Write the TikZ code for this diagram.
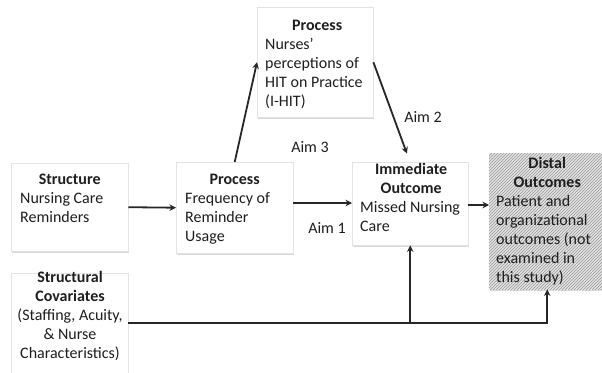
\documentclass[tikz,border=0pt]{standalone}
\usepackage{fontspec}
\setmainfont{Carlito}
\usetikzlibrary{arrows.meta,shadows,patterns}
\definecolor{ink}{HTML}{1E1E1E}
\definecolor{linec}{HTML}{262626}
\newcommand{\bxfont}{\fontsize{16}{19}\selectfont}
\newcommand{\ttl}[2]{\makebox[#1][c]{\bfseries #2}}
\begin{document}
\begin{tikzpicture}[x=1pt,y=-1pt,
  box/.style={draw=gray!22, fill=white, inner sep=0pt, anchor=north west,
    drop shadow={shadow xshift=1pt, shadow yshift=-1.5pt, opacity=0.3}},
  txt/.style={inner sep=0pt, anchor=north west, align=left, text=ink, font=\bxfont},
  lab/.style={inner sep=0pt, text=ink, font=\bxfont},
  arr/.style={draw=linec, line width=1.8pt, -{Stealth[length=6.5pt,width=6.5pt]}},
  ln/.style={draw=linec, line width=1.8pt}]
\clip (0,0) rectangle (602,372);
\fill[white] (0,0) rectangle (602,372);
% boxes
\node[box, minimum width=117pt, minimum height=88pt] (s) at (11,163) {};
\node[box, minimum width=117pt, minimum height=91pt] (p1) at (176,162) {};
\node[box, minimum width=117pt, minimum height=100pt] (sc) at (11,273) {};
\node[box, minimum width=116pt, minimum height=110pt] (p2) at (257,7) {};
\node[box, minimum width=116pt, minimum height=83pt] (io) at (352,162) {};
\node[box, minimum width=116pt, minimum height=136pt, fill=gray!22,
  postaction={pattern=north east lines, pattern color=gray!80}] (d) at (489,153) {};
% texts
\node[txt] (st) at (20,173.5) {\ttl{99pt}{Structure}\\Nursing Care\\Reminders};
\node[txt] (p1t) at (185,173.5) {\ttl{99pt}{Process}\\Frequency of\\Reminder\\Usage};
\node[txt] (p2t) at (265,19.5) {\ttl{104pt}{Process}\\Nurses'\\perceptions of\\HIT on Practice\\(I-HIT)};
\node[txt] (iot) at (360,163) {\ttl{102pt}{Immediate}\\\ttl{102pt}{Outcome}\\Missed Nursing\\Care};
\node[txt] (dt) at (496,157.5) {\ttl{102pt}{Distal}\\\ttl{102pt}{Outcomes}\\Patient and\\organizational\\outcomes (not\\examined in\\this study)};
\node[txt, anchor=north, align=center] (sct) at (70,271.5) {\textbf{Structural}\\\textbf{Covariates}\\(Staffing, Acuity,\\\& Nurse\\Characteristics)};
% labels
\node[lab] (a3) at (310,147) {Aim 3};
\node[lab] (a1) at (327,228) {Aim 1};
\node[lab] (a2) at (423,117) {Aim 2};
% connectors
\draw[arr] (s.east) -- (p1.west);
\draw[arr] (p1.east |- 0,203) -- (io.west |- 0,203);
\draw[arr] (p1.north) -- (p2.west);
\draw[arr, shorten >=9pt] (p2.east) -- (410,162);
\draw[arr] (io.east |- 0,205) -- (d.west |- 0,205);
\coordinate (j) at (io.south |- sc.east);
\draw[ln] (sc.east) -- (j);
\draw[arr] (j) -- (io.south);
\draw[arr] (j) -- (j -| d.south) -- (d.south);
\end{tikzpicture}
\end{document}
